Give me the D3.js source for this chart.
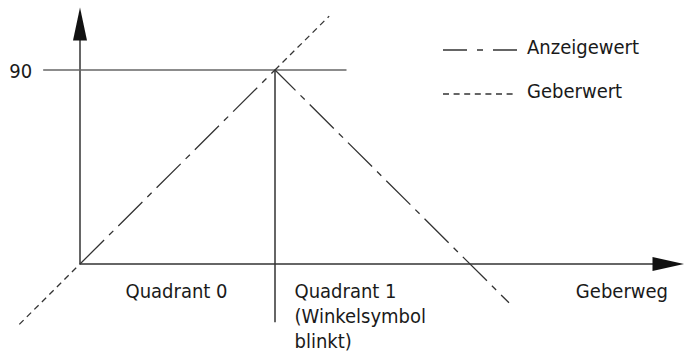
<!DOCTYPE html>
<html>
<head>
<meta charset="utf-8">
<script src="https://cdn.jsdelivr.net/npm/d3@7"></script>
<style>
  body { margin: 0; background: #fff; }
  svg text { font-family: "DejaVu Sans Condensed", "DejaVu Sans", sans-serif; font-size: 20px; fill: #1a1a1a; font-stretch: condensed; }
</style>
</head>
<body>
<svg id="chart" width="684" height="358"></svg>
<script>
// values in Geberweg units (degrees), both axes
const yTicks = [90];
const anzeigeX = [0, 90, 198];
const anzeigeY = [0, 90, -18];
// Geberwert visible only outside the shared part
const geberLowX = [-28, 0];
const geberHighX = [90, 115];
const axisEnd = { x: 279, y: 119 };
const refLine = { x0: -17, x1: 123, y: 90 };
const markerLine = { x: 90, y0: 90, y1: -27 };
const quadrantLabels = [
  { x: 21, lines: ["Quadrant 0"] },
  { x: 99, lines: ["Quadrant 1", "(Winkelsymbol", "blinkt)"] }
];
const legendItems = [
  { name: "Anzeigewert", dash: "24,10,6,10,24" },
  { name: "Geberwert", dash: "6,4.6" }
];

const svg = d3.select("#chart");
const ink = "#333";

const x = d3.scaleLinear().domain([0, 90]).range([80, 275]);
const y = d3.scaleLinear().domain([0, 90]).range([264, 70]);

const line = d3.line().x(d => x(d[0])).y(d => y(d[1]));

// axes lines
svg.append("line")
  .attr("x1", x(0)).attr("y1", y(0))
  .attr("x2", x(0)).attr("y2", y(axisEnd.y) + 30)
  .attr("stroke", ink).attr("stroke-width", 1.5);
svg.append("line")
  .attr("x1", x(0)).attr("y1", y(0))
  .attr("x2", x(axisEnd.x) - 30).attr("y2", y(0))
  .attr("stroke", ink).attr("stroke-width", 1.5);

// arrow heads
const yTip = [x(0), y(axisEnd.y)];
svg.append("path")
  .attr("d", `M${yTip[0]},${yTip[1]}L${yTip[0] + 7},${yTip[1] + 33}L${yTip[0] - 7},${yTip[1] + 33}Z`)
  .attr("fill", "#111");
const xTip = [x(axisEnd.x), y(0)];
svg.append("path")
  .attr("d", `M${xTip[0]},${xTip[1]}L${xTip[0] - 32},${xTip[1] - 7}L${xTip[0] - 32},${xTip[1] + 7}Z`)
  .attr("fill", "#111");

// 90 reference line and its label
svg.append("line")
  .attr("x1", x(refLine.x0)).attr("x2", x(refLine.x1))
  .attr("y1", y(refLine.y)).attr("y2", y(refLine.y))
  .attr("stroke", "#666").attr("stroke-width", 1.5);

const yAxis = svg.append("g")
  .attr("transform", `translate(${x(refLine.x0)},0)`)
  .call(d3.axisLeft(y).tickValues(yTicks).tickSize(0).tickPadding(11));
yAxis.select(".domain").remove();
yAxis.selectAll("text").style("font-size", "20px").attr("dy", "0.36em");

// vertical quadrant divider
svg.append("line")
  .attr("x1", x(markerLine.x)).attr("x2", x(markerLine.x))
  .attr("y1", y(markerLine.y0)).attr("y2", y(markerLine.y1))
  .attr("stroke", ink).attr("stroke-width", 1.5);

// Geberwert
[geberLowX, geberHighX].forEach(seg => {
  svg.append("path")
    .attr("d", line(seg.map(v => [v, v])))
    .attr("fill", "none").attr("stroke", ink).attr("stroke-width", 1.3)
    .attr("stroke-dasharray", legendItems[1].dash);
});

// Anzeigewert
svg.append("path")
  .attr("d", line(anzeigeX.map((v, i) => [v, anzeigeY[i]])))
  .attr("fill", "none").attr("stroke", ink).attr("stroke-width", 1.3)
  .attr("stroke-dasharray", "34,7,6,7");

// quadrant labels
quadrantLabels.forEach(q => {
  const t = svg.append("text").attr("x", x(q.x)).attr("y", 298);
  q.lines.forEach((s, i) => {
    t.append("tspan").attr("x", x(q.x)).attr("dy", i === 0 ? 0 : 25).text(s);
  });
});
svg.append("text")
  .attr("x", 668).attr("y", 298).attr("text-anchor", "end")
  .text("Geberweg");

// legend
const legend = svg.selectAll(".legend")
  .data(legendItems).enter().append("g")
  .attr("class", "legend")
  .attr("transform", (d, i) => `translate(443,${50 + i * 44})`);
legend.append("line")
  .attr("x1", 0).attr("x2", 74).attr("y1", 0).attr("y2", 0)
  .attr("stroke", ink).attr("stroke-width", 1.3)
  .attr("stroke-dasharray", d => d.dash);
legend.append("text")
  .attr("x", 84).attr("y", 4)
  .text(d => d.name);
</script>
</body>
</html>
